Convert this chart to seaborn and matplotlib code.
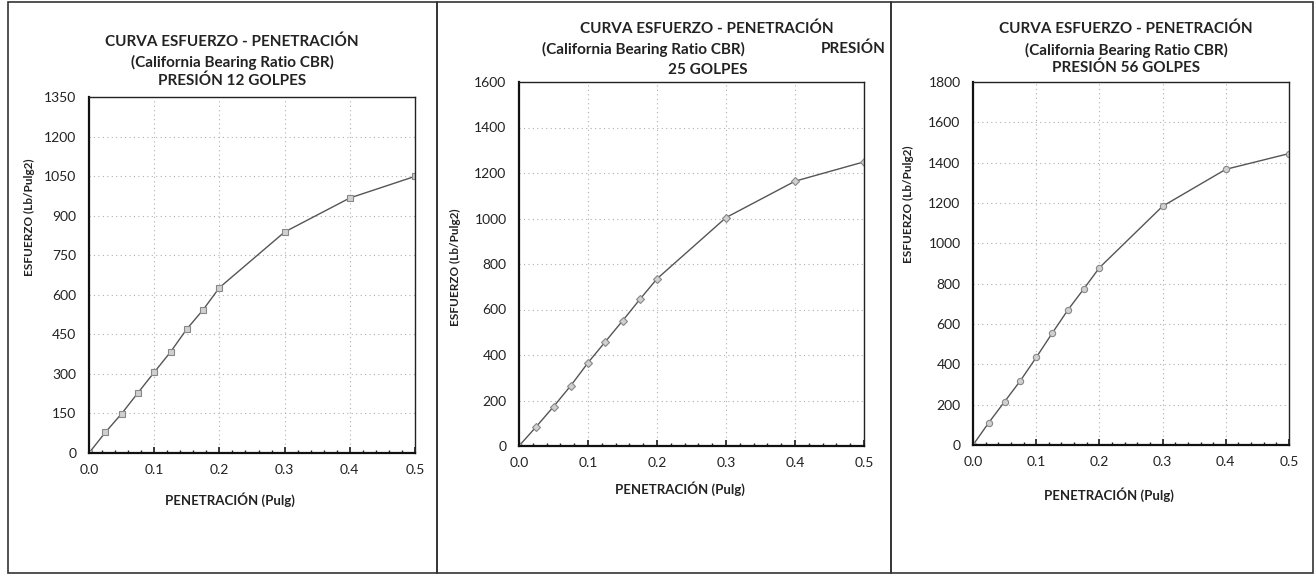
import numpy as np
import pandas as pd
import seaborn as sns
import matplotlib.pyplot as plt
from matplotlib.patches import Rectangle
from matplotlib.ticker import MultipleLocator

# penetration (in) and stress (lb/in2)
pen = [0.0, 0.025, 0.05, 0.075, 0.1, 0.125, 0.15, 0.175, 0.2, 0.3, 0.4, 0.5]
esf_12 = [0, 78, 149, 228, 306, 383, 470, 543, 627, 838, 967, 1049]
esf_25 = [0, 85, 173, 265, 366, 458, 550, 644, 735, 1004, 1164, 1249]
esf_56 = [0, 111, 215, 319, 434, 553, 669, 773, 879, 1184, 1367, 1445]

sns.set_theme(style='white')
plt.rcParams['font.family'] = ['Lato', 'DejaVu Sans']

W, H = 1316, 576
fig = plt.figure(figsize=(W / 100, H / 100), dpi=100)
fig.patch.set_facecolor('white')

def px_axes(l, t, r, b):
    return fig.add_axes([l / W, 1 - b / H, (r - l) / W, (b - t) / H])

def frame(l, t, r, b):
    fig.add_artist(Rectangle((l / W, 1 - b / H), (r - l) / W, (b - t) / H,
                             transform=fig.transFigure, fill=False,
                             edgecolor='#333333', linewidth=1.2))

def cbr_panel(ax, y, ymax, ystep, marker):
    df = pd.DataFrame({'pen': pen, 'esf': y})
    sns.lineplot(data=df, x='pen', y='esf', ax=ax, color='#555555', linewidth=1.0,
                 marker=marker, markersize=4.5, markerfacecolor='#d0d0d0',
                 markeredgecolor='#888888', markeredgewidth=0.8)
    ax.set_xlim(0, 0.5)
    ax.set_ylim(0, ymax)
    ax.xaxis.set_major_locator(MultipleLocator(0.1))
    ax.xaxis.set_minor_locator(MultipleLocator(0.02))
    ax.yaxis.set_major_locator(MultipleLocator(ystep))
    ax.xaxis.set_major_formatter(plt.FuncFormatter(lambda v, p: f'{v:.1f}'))
    ax.grid(True, which='major', color='#b0b0b0', linestyle=(0, (1, 3)), linewidth=0.8)
    ax.tick_params(axis='x', which='major', direction='in', length=4, pad=8,
                   labelsize=10, colors='#222222', bottom=True)
    ax.tick_params(axis='x', which='minor', direction='in', length=2.5, bottom=True,
                   colors='#222222')
    ax.tick_params(axis='y', which='major', direction='in', length=0, pad=9,
                   labelsize=10, colors='#222222', left=True)
    for s in ['left', 'bottom']:
        ax.spines[s].set_color('#111111')
        ax.spines[s].set_linewidth(1.6)
    for s in ['top', 'right']:
        ax.spines[s].set_color('#222222')
        ax.spines[s].set_linewidth(1.0)
    ax.set_xlabel('')
    ax.set_ylabel('')

tkw = dict(ha='center', va='center', fontsize=11, fontweight='bold', color='#222222')
lkw = dict(ha='center', va='center', fontsize=8.5, fontweight='bold', color='#222222')
xkw = dict(ha='center', va='center', fontsize=9.5, fontweight='bold', color='#222222')

def ftext(x, y, s, **kw):
    fig.text(x / W, 1 - y / H, s, **kw)

# ---------------- panel 1
frame(8, 2, 437, 573)
ax1 = px_axes(89, 97, 415, 453)
cbr_panel(ax1, esf_12, 1350, 150, 's')
ftext(232, 42, 'CURVA ESFUERZO - PENETRACIÓN', **tkw)
ftext(232, 62, '(California Bearing Ratio CBR)', **tkw)
ftext(232, 81, 'PRESIÓN 12 GOLPES', **tkw)
ftext(29, 217, 'ESFUERZO (Lb/Pulg2)', rotation=90, **lkw)
ftext(230, 500, 'PENETRACIÓN (Pulg)', **xkw)

# ---------------- panel 2
frame(437, 2, 891, 573)
ax2 = px_axes(519, 82, 864, 446)
cbr_panel(ax2, esf_25, 1600, 200, 'D')
ftext(707, 29, 'CURVA ESFUERZO - PENETRACIÓN', **tkw)
ftext(643, 49, '(California Bearing Ratio CBR)', **tkw)
ftext(853, 49, 'PRESIÓN', **tkw)
ftext(708, 70, '25 GOLPES', **tkw)
ftext(455, 267, 'ESFUERZO (Lb/Pulg2)', rotation=90, **lkw)
ftext(680, 489, 'PENETRACIÓN (Pulg)', **xkw)

# ---------------- panel 3
frame(891, 2, 1313, 573)
ax3 = px_axes(973, 82, 1289, 445)
cbr_panel(ax3, esf_56, 1800, 200, 'o')
ftext(1126, 29, 'CURVA ESFUERZO - PENETRACIÓN', **tkw)
ftext(1126, 50, '(California Bearing Ratio CBR)', **tkw)
ftext(1126, 68, 'PRESIÓN 56 GOLPES', **tkw)
ftext(908, 204, 'ESFUERZO (Lb/Pulg2)', rotation=90, **lkw)
ftext(1109, 495, 'PENETRACIÓN (Pulg)', **xkw)

fig.savefig('out.png', dpi=100, facecolor='white')
